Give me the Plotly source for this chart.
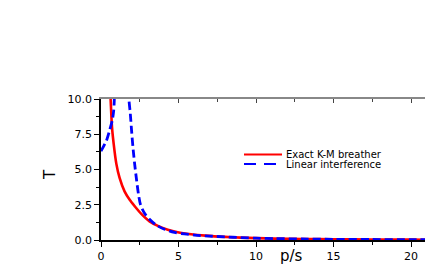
import plotly.graph_objects as go

# Exact K-M breather (red solid)
p_exact = [0.50, 0.62, 0.71, 0.82, 0.99, 1.2, 1.52, 1.85, 2.17, 2.6, 3.13, 3.67,
           4.31, 4.95, 5.81, 6.75, 8.0, 9.0, 10.0, 11.2, 13.0, 15.0, 17.5, 20.0, 21.0]
T_exact = [13.0, 10.0, 8.0, 6.8, 5.4, 4.4, 3.45, 2.85, 2.4, 1.85, 1.32, 1.0,
           0.73, 0.55, 0.41, 0.31, 0.22, 0.17, 0.13, 0.10, 0.07, 0.05, 0.035, 0.025, 0.02]

# Linear interference (blue dashed)
p_lin = [0.0, 0.35, 0.56, 0.73, 0.82, 0.86, 0.90, None,
         1.75, 1.80, 1.89, 1.97, 2.06, 2.17, 2.30, 2.41, 2.55, 2.81, 3.13, 3.56,
         4.1, 4.74, 5.38, 6.03, 7.0, 8.0, 9.0, 10.0, 11.2, 13.0, 15.0, 17.5, 20.0, 21.0]
T_lin = [6.3, 7.05, 7.8, 8.5, 9.2, 10.0, 11.5, None,
         11.5, 10.0, 8.96, 7.8, 6.6, 5.4, 4.2, 3.3, 2.5, 1.89, 1.47, 1.06,
         0.76, 0.54, 0.43, 0.35, 0.28, 0.22, 0.17, 0.13, 0.10, 0.07, 0.05, 0.035, 0.025, 0.02]

legend_names = ["Exact K-M breather", "Linear interference"]
x_title = "p/s"
y_title = "T"

FONT = "DejaVu Sans"
RED = "#FF0000"
BLUE = "#0000FF"

fig = go.Figure()
fig.add_trace(go.Scatter(x=p_exact, y=T_exact, mode="lines", name=legend_names[0],
                         line=dict(color=RED, width=2.6, shape="spline", smoothing=0.8),
                         showlegend=False))
fig.add_trace(go.Scatter(x=p_lin, y=T_lin, mode="lines", name=legend_names[1],
                         line=dict(color=BLUE, width=2.8, dash="8px,4px",
                                   shape="spline", smoothing=0.8),
                         connectgaps=False, showlegend=False))

W, H = 425, 273
ml, mr, mt, mb = 101, 0, 99, 33
pw, ph = W - ml - mr, H - mt - mb

def px(x):
    return (x - ml) / pw

def py(y):
    return (H - mb - y) / ph

fig.update_layout(
    width=W, height=H,
    margin=dict(l=ml, r=mr, t=mt, b=mb, autoexpand=False),
    paper_bgcolor="white", plot_bgcolor="white",
    font=dict(family=FONT, size=11, color="black"),
    xaxis=dict(range=[0, 20.9], dtick=5, tick0=0, showgrid=False, zeroline=False,
               automargin=False,
               showline=True, linecolor="black", linewidth=1.5,
               ticks="outside", ticklen=5, tickwidth=1, tickcolor="black",
               minor=dict(dtick=2.5, ticks="outside", ticklen=3, tickcolor="black"),
               tickfont=dict(family=FONT, size=11)),
    xaxis2=dict(range=[0, 20.9], overlaying="x", side="top", dtick=5, tick0=0,
                automargin=False,
                showgrid=False, zeroline=False, showline=True, linecolor="#888888",
                linewidth=1.5, ticks="inside", ticklen=4, tickcolor="#444444",
                minor=dict(dtick=2.5, ticks="inside", ticklen=3, tickcolor="#444444"),
                showticklabels=False),
    yaxis=dict(range=[0, 10], dtick=2.5, tick0=0, tickformat=".1f", showgrid=False,
               automargin=False,
               zeroline=False, showline=True, linecolor="black", linewidth=1.5,
               ticks="outside", ticklen=5, tickwidth=1, tickcolor="black",
               minor=dict(dtick=1.25, ticks="outside", ticklen=3, tickcolor="black"),
               tickfont=dict(family=FONT, size=11)),
)

# invisible trace so the top axis is drawn
fig.add_trace(go.Scatter(x=[0], y=[0], xaxis="x2", yaxis="y", mode="markers",
                         marker=dict(opacity=0), showlegend=False, hoverinfo="skip"))

# compact legend
fig.add_shape(type="line", xref="paper", yref="paper", x0=px(244), x1=px(282),
              y0=py(154.5), y1=py(154.5), line=dict(color=RED, width=2.2))
fig.add_shape(type="line", xref="paper", yref="paper", x0=px(244), x1=px(282),
              y0=py(164), y1=py(164), line=dict(color=BLUE, width=2.2, dash="12px,8px"))
fig.add_annotation(xref="paper", yref="paper", x=px(285), y=py(154.5), text=legend_names[0],
                   showarrow=False, xanchor="left", yanchor="middle", borderpad=0,
                   font=dict(family=FONT, size=10, color="black"))
fig.add_annotation(xref="paper", yref="paper", x=px(285), y=py(164), text=legend_names[1],
                   showarrow=False, xanchor="left", yanchor="middle", borderpad=0,
                   font=dict(family=FONT, size=10, color="black"))

# axis titles
fig.add_annotation(xref="paper", yref="paper", x=px(291), y=py(256), text=x_title,
                   showarrow=False, xanchor="center", yanchor="middle",
                   font=dict(family=FONT, size=15, color="black"))
fig.add_annotation(xref="paper", yref="paper", x=px(50), y=py(175), text=y_title,
                   showarrow=False, xanchor="center", yanchor="middle", textangle=-90,
                   font=dict(family=FONT, size=15, color="black"))

fig.write_html("out.html", config={"displayModeBar": False},
               post_script="document.body.style.margin='0';document.body.style.overflow='hidden';")
